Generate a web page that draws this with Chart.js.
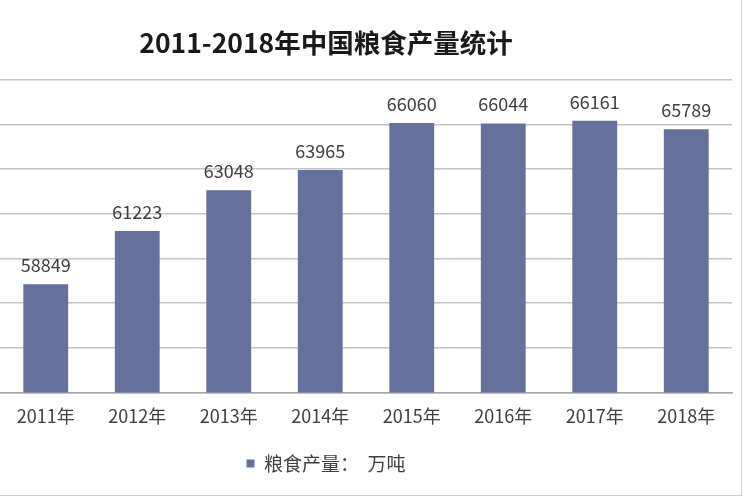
<!DOCTYPE html>
<html>
<head>
<meta charset="utf-8">
<script src="https://cdn.jsdelivr.net/npm/chart.js@4.4.0/dist/chart.umd.min.js"></script>
<style>
  html, body { margin: 0; padding: 0; background: #fff; overflow: hidden; width: 750px; height: 500px; }
  /* 原图左侧和顶部被裁掉了，所以整个图表框往左上偏移 */
  #frame { position: absolute; left: -90px; top: -2px; width: 830px; height: 496px; border: 1px solid #d0d0d0; background: #fff; }
  #chart { display: block; }
</style>
</head>
<body>
<div id="frame"><canvas id="chart" width="830" height="496"></canvas></div>
<script>
// 数据
const years = ['2011年', '2012年', '2013年', '2014年', '2015年', '2016年', '2017年', '2018年'];
const grainOutput = [58849, 61223, 63048, 63965, 66060, 66044, 66161, 65789];
const seriesName = '粮食产量：  万吨';
const chartTitle = '2011-2018年中国粮食产量统计';
const yMin = 54000;
const yMax = 68000;
const yStep = 2000;

const FONT = '"Noto Sans CJK SC", "Noto Sans", sans-serif';
const barColor = '#65709b';
const textColor = '#404040';

// 柱顶数值标签
const valueLabels = {
  id: 'valueLabels',
  afterDatasetsDraw(chart) {
    const ctx = chart.ctx;
    const meta = chart.getDatasetMeta(0);
    ctx.save();
    ctx.font = '18px ' + FONT;
    ctx.fillStyle = textColor;
    ctx.textAlign = 'center';
    ctx.textBaseline = 'middle';
    meta.data.forEach((bar, i) => {
      ctx.fillText(String(chart.data.datasets[0].data[i]), bar.x, bar.y - 19);
    });
    ctx.restore();
  }
};

const ctx = document.getElementById('chart').getContext('2d');
new Chart(ctx, {
  type: 'bar',
  data: {
    labels: years,
    datasets: [{
      label: seriesName,
      data: grainOutput,
      backgroundColor: barColor,
      borderWidth: 0,
      barPercentage: 1,
      categoryPercentage: 0.49
    }]
  },
  options: {
    responsive: false,
    animation: false,
    devicePixelRatio: 1,
    layout: { padding: { left: 9, right: 9, top: 0, bottom: 12 } },
    scales: {
      x: {
        afterFit(scale) { scale.height += 4; },
        grid: { display: false, drawTicks: false },
        border: { display: true, color: '#a6a6a6', width: 1.5 },
        ticks: { color: textColor, font: { family: FONT, size: 18 }, padding: 13 }
      },
      y: {
        min: yMin,
        max: yMax,
        afterFit(scale) { scale.width = 80; },
        grid: { color: '#c4c4c4', lineWidth: 1.5, drawTicks: false },
        border: { display: false },
        ticks: { stepSize: yStep, color: textColor, font: { family: FONT, size: 16 } }
      }
    },
    plugins: {
      title: {
        display: true,
        text: chartTitle,
        color: '#1a1a1a',
        font: { family: FONT, size: 26.5, weight: 'bold' },
        padding: { top: 28, bottom: 21 }
      },
      legend: {
        position: 'bottom',
        labels: {
          color: textColor,
          font: { family: FONT, size: 19 },
          boxWidth: 8,
          boxHeight: 8,
          padding: 10
        }
      },
      tooltip: { enabled: false }
    }
  },
  plugins: [valueLabels]
});
</script>
</body>
</html>
